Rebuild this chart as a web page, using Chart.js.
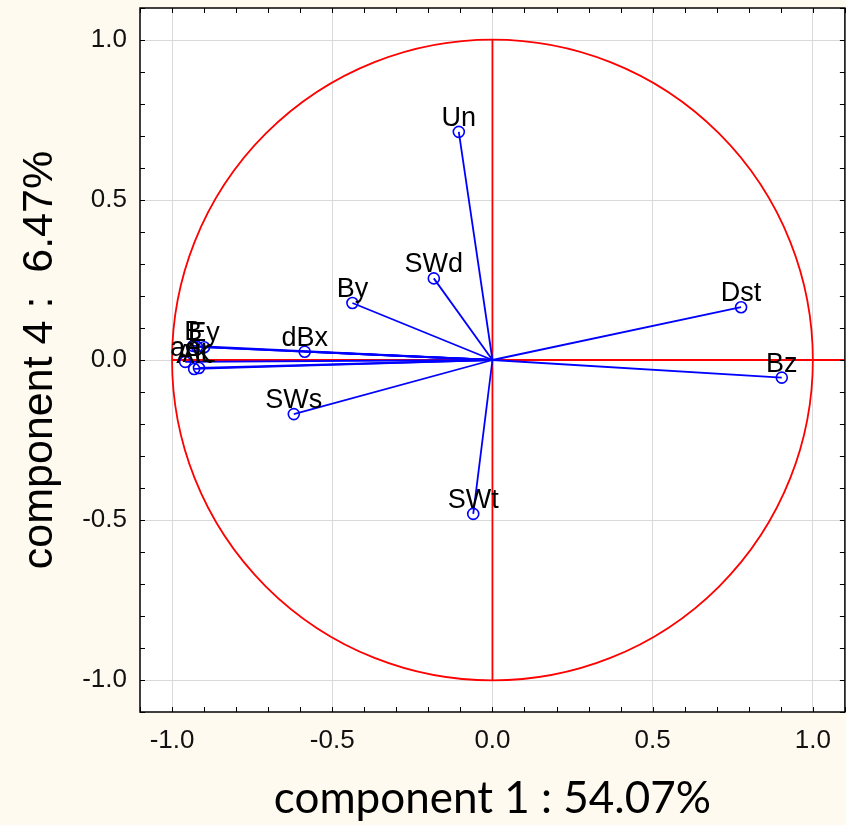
<!DOCTYPE html>
<html>
<head>
<meta charset="utf-8">
<script src="https://cdn.jsdelivr.net/npm/chart.js@4"></script>
<style>
  html, body { margin: 0; padding: 0; background: #fffaf0; overflow: hidden; }
  #wrap { width: 852px; height: 825px; position: relative; }
</style>
</head>
<body>
<div id="wrap"><canvas id="c"></canvas></div>
<script>
const LABELS = ['Un', 'SWd', 'By', 'Dst', 'Bz', 'dBx', 'SWs', 'SWt', 'B', 'E', 'Ey', 'ae', 'AK', 'AL'];
const COMP1  = [-0.105, -0.183, -0.437, 0.776, 0.903, -0.586, -0.620, -0.060, -0.934, -0.922, -0.900, -0.959, -0.931, -0.916];
const COMP4  = [0.713, 0.255, 0.178, 0.165, -0.055, 0.026, -0.169, -0.481, 0.044, 0.041, 0.040, -0.006, -0.028, -0.025];
const TICKS  = [-1.0, -0.5, 0.0, 0.5, 1.0];
const AXIS_MIN = -1.1, AXIS_MAX = 1.1;
const X_TITLE = 'component 1 : 54.07%';
const Y_TITLE = 'component 4 :  6.47%';

const BLUE = '#0000ff', RED = '#ff0000';

const datasets = LABELS.map((lab, i) => ({
  label: lab,
  data: [{x: 0, y: 0}, {x: COMP1[i], y: COMP4[i]}],
  showLine: true,
  borderColor: BLUE,
  borderWidth: 1.8,
  pointRadius: [0, 5.5],
  pointBorderColor: BLUE,
  pointBackgroundColor: 'rgba(0,0,0,0)',
  pointBorderWidth: 1.6,
  fill: false
}));

const decor = {
  id: 'decor',
  beforeDraw(chart) {
    const {ctx, chartArea: a} = chart;
    ctx.save();
    ctx.fillStyle = '#ffffff';
    ctx.fillRect(a.left, a.top, a.right - a.left, a.bottom - a.top);
    ctx.restore();
  },
  beforeDatasetsDraw(chart) {
    const {ctx, scales: {x, y}} = chart;
    const cx = x.getPixelForValue(0), cy = y.getPixelForValue(0);
    const r = x.getPixelForValue(1) - cx;
    ctx.save();
    ctx.strokeStyle = RED;
    ctx.lineWidth = 1.8;
    ctx.beginPath();
    ctx.arc(cx, cy, r, 0, Math.PI * 2);
    ctx.stroke();
    ctx.beginPath();
    ctx.moveTo(cx, y.getPixelForValue(1));
    ctx.lineTo(cx, y.getPixelForValue(-1));
    ctx.moveTo(x.getPixelForValue(-1), cy);
    ctx.lineTo(x.getPixelForValue(AXIS_MAX), cy);
    ctx.stroke();
    ctx.restore();
  },
  afterDatasetsDraw(chart) {
    const {ctx, scales: {x, y}} = chart;
    ctx.save();
    ctx.font = '27px "Liberation Sans", Arial, sans-serif';
    ctx.fillStyle = '#000';
    ctx.textAlign = 'center';
    ctx.textBaseline = 'alphabetic';
    LABELS.forEach((lab, i) => {
      const px = x.getPixelForValue(COMP1[i]);
      const py = y.getPixelForValue(COMP4[i]);
      ctx.fillText(lab, px, py - 6);
    });
    ctx.restore();
  },
  afterDraw(chart) {
    const {ctx, chartArea: a, scales: {x, y}} = chart;
    ctx.save();
    ctx.strokeStyle = '#000';
    ctx.lineWidth = 1.5;
    ctx.strokeRect(a.left, a.top, a.right - a.left, a.bottom - a.top);
    ctx.lineWidth = 1;
    ctx.beginPath();
    for (let k = -11; k <= 11; k++) {
      const v = k / 10;
      const px = Math.round(x.getPixelForValue(v)) + 0.5;
      const py = Math.round(y.getPixelForValue(v)) + 0.5;
      ctx.moveTo(px, a.bottom); ctx.lineTo(px, a.bottom - 5);
      ctx.moveTo(px, a.top); ctx.lineTo(px, a.top + 5);
      ctx.moveTo(a.left, py); ctx.lineTo(a.left + 5, py);
      ctx.moveTo(a.right, py); ctx.lineTo(a.right - 5, py);
    }
    ctx.stroke();
    ctx.restore();
  }
};

const tickFont = {family: '"Liberation Sans", Arial, sans-serif', size: 26};
const gridOpts = {
  color: '#d9d9d9',
  lineWidth: 1,
  drawTicks: false
};

new Chart(document.getElementById('c'), {
  type: 'scatter',
  data: {datasets},
  options: {
    responsive: true,
    maintainAspectRatio: false,
    animation: false,
    layout: {padding: {top: 8, right: 0, left: 0, bottom: 0}},
    plugins: {legend: {display: false}, tooltip: {enabled: false}},
    scales: {
      x: {
        type: 'linear',
        min: AXIS_MIN, max: AXIS_MAX,
        afterBuildTicks: s => { s.ticks = TICKS.map(v => ({value: v})); },
        afterFit: s => { s.height = 113; s.paddingLeft = 0; s.paddingRight = 0; },
        ticks: {callback: v => Number(v).toFixed(1), font: tickFont, color: '#111', padding: 13, maxRotation: 0, autoSkip: false},
        grid: gridOpts,
        border: {display: false},
        title: {display: true, text: X_TITLE, color: '#000',
                font: {family: 'Lato, "Open Sans", sans-serif', size: 44},
                padding: {top: 0, bottom: 0}}
      },
      y: {
        type: 'linear',
        min: AXIS_MIN, max: AXIS_MAX,
        afterBuildTicks: s => { s.ticks = TICKS.map(v => ({value: v})); },
        afterFit: s => { s.width = 140; s.paddingTop = 0; s.paddingBottom = 0; },
        ticks: {callback: v => Number(v).toFixed(1), font: tickFont, color: '#111', padding: 13, autoSkip: false},
        grid: gridOpts,
        border: {display: false},
        title: {display: true, text: Y_TITLE, color: '#000',
                font: {family: '"Liberation Sans", Arial, sans-serif', size: 43},
                padding: {top: 14, bottom: 0}}
      }
    }
  },
  plugins: [decor]
});
</script>
</body>
</html>
